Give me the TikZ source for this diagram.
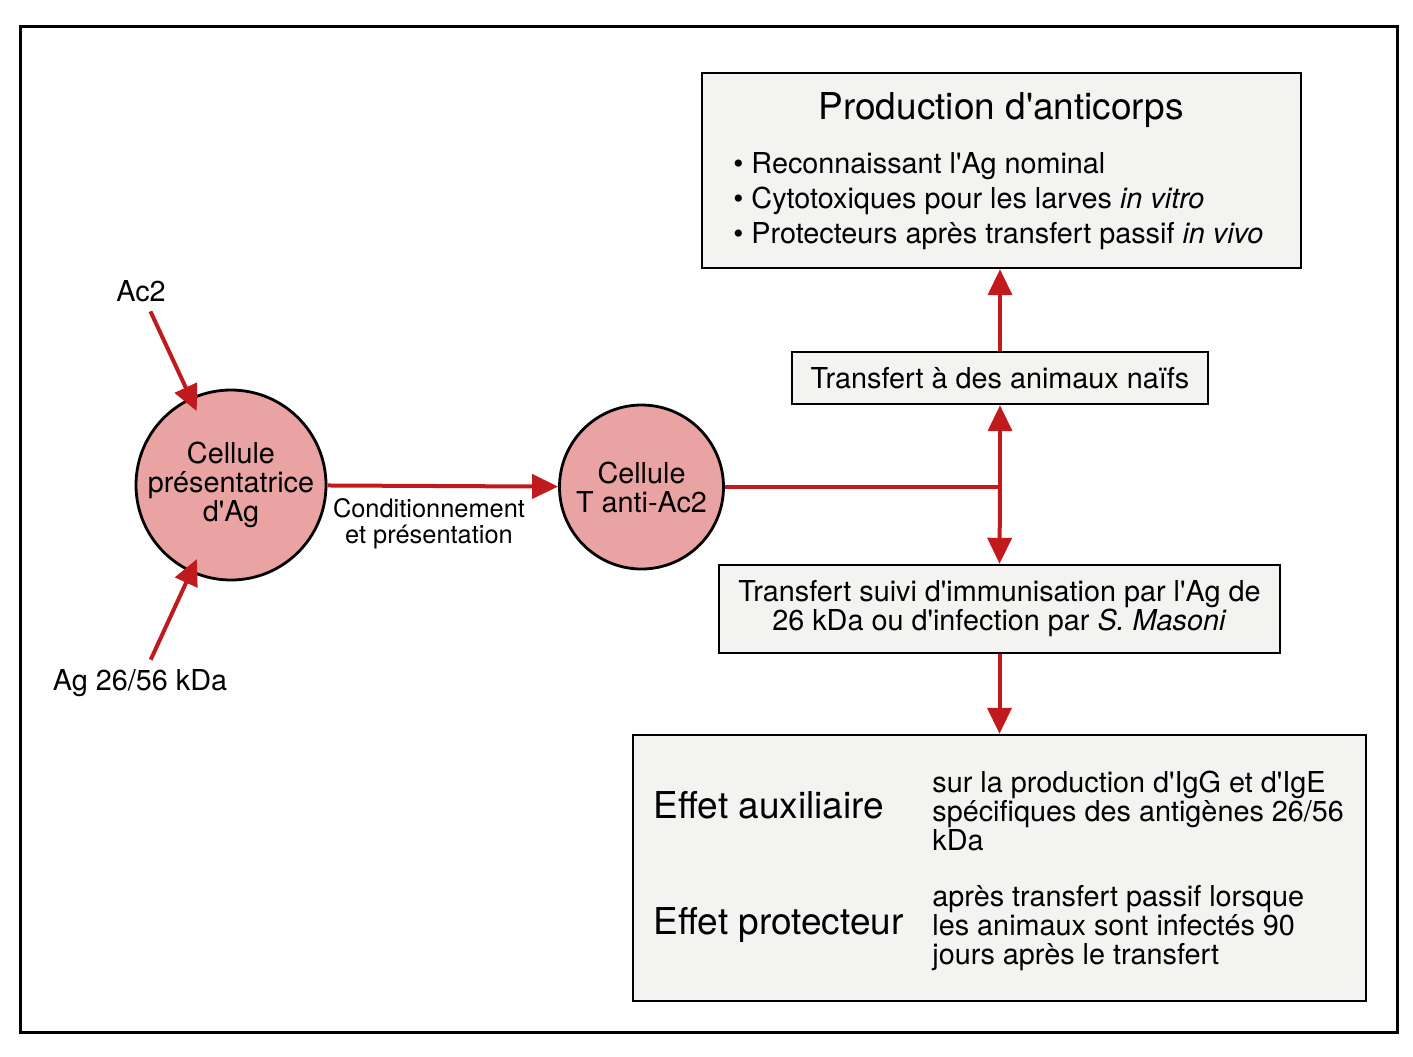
\documentclass[tikz,border=0pt]{standalone}
\usepackage{fontspec}
\setmainfont{TeX Gyre Heros}
\usetikzlibrary{arrows.meta}
\usetikzlibrary{positioning}

\definecolor{rouge}{HTML}{C01A1E}
\definecolor{rose}{HTML}{EAA3A3}
\definecolor{fond}{HTML}{F3F3F1}

\newcommand{\corps}{\fontsize{14.4}{14.5}\selectfont}
\newcommand{\titre}{\fontsize{18.5}{22}\selectfont}
\newcommand{\petit}{\fontsize{12.7}{13}\selectfont}
\newcommand{\ap}{\textquotesingle}

\tikzset{
  cadre/.style={draw=black, line width=1.2pt, fill=fond, inner sep=0pt},
  cellule/.style={circle, draw=black, line width=1.4pt, fill=rose, align=center, inner sep=0pt},
  texte/.style={inner sep=0pt, align=left},
  fleche/.style={draw=rouge, line width=2pt, -{Triangle[width=12pt,length=13pt]}},
}

\begin{document}
\begin{tikzpicture}[x=0.5pt, y=-0.5pt, font=\corps]
  \useasboundingbox (0,0) rectangle (1413,1056);
  \draw [line width=1.5pt] (20,26) rectangle (1397,1032);

  % cellules
  \node [cellule, minimum size=95pt] (cpa) at (231,485) {Cellule\\présentatrice\\d\ap Ag};
  \node [cellule, minimum size=82pt] (cta) at (641.5,487) {Cellule\\T anti-Ac2};
  \node [inner sep=1pt] (ac2) at (141,291) {Ac2};
  \node [inner sep=1pt] (ag) at (140,683) {Ag 26/56 kDa};
  \node [font=\petit, align=center, inner sep=0pt] (cond) at (429,524) {Conditionnement\\et présentation};

  % cadres
  \node [cadre, minimum width=299.5pt, minimum height=97.5pt] (prod) at (1001.5,170.5) {};
  \node [font=\titre, anchor=base, inner sep=0pt] (titre) at (1001,119) {Production d\ap anticorps};
  \node [texte, anchor=base west] (rec) at (733,173) {\textbullet\ Reconnaissant l\ap Ag nominal};
  \node [texte, anchor=base west] (cyt) at (733,208) {\textbullet\ Cytotoxiques pour les larves \textit{in vitro}};
  \node [texte, anchor=base west] (pro) at (733,243) {\textbullet\ Protecteurs après transfert passif \textit{in vivo}};

  \node [cadre, minimum width=208pt, minimum height=26pt] (naifs) at (1000,378) {Transfert à des animaux naïfs};
  \node [cadre, minimum width=280.5pt, minimum height=44pt, align=center] (suivi) at (999.5,609)
    {Transfert suivi d\ap immunisation par l\ap Ag de\\26 kDa ou d\ap infection par \textit{S. Masoni}};

  \node [cadre, minimum width=366.5pt, minimum height=133pt] (effets) at (999.5,868) {};
  \node [texte, font=\titre, anchor=base west] (aux) at (653,818) {Effet auxiliaire};
  \node [texte, font=\titre, anchor=base west] (prot) at (653,934) {Effet protecteur};
  \node [texte, anchor=west] (auxtxt) at (932,811) {sur la production d\ap IgG et d\ap IgE\\spécifiques des antigènes 26/56\\kDa};
  \node [texte, anchor=west] (prottxt) at (932,928) {après transfert passif lorsque\\les animaux sont infectés 90\\jours après le transfert};

  % connecteurs
  \draw [fleche, shorten <=4pt, shorten >=-7.5pt] (ac2) -- (cpa);
  \draw [fleche, shorten <=4pt, shorten >=-7.5pt] (ag) -- (cpa);
  \draw [fleche] (cpa) -- (cta);
  \coordinate (noeud) at (naifs.south |- cta.east);
  \draw [draw=rouge, line width=2pt] (cta) -- (noeud);
  \draw [fleche] (noeud) -- (naifs.south);
  \draw [fleche] (noeud) -- (suivi.north);
  \draw [fleche] (naifs.north) -- (naifs.north |- prod.south);
  \draw [fleche] (suivi.south) -- (suivi.south |- effets.north);
\end{tikzpicture}
\end{document}
